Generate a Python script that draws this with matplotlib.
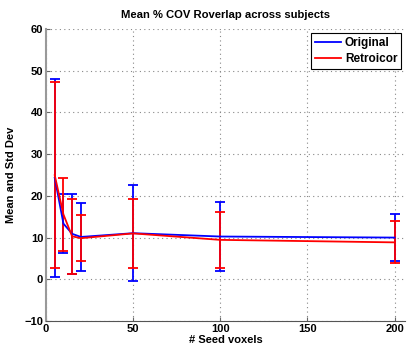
import matplotlib
matplotlib.use('Agg')
import matplotlib.pyplot as plt

# number of seed voxels
seed_voxels = [5, 10, 15, 20, 50, 100, 200]

# mean % COV Roverlap and std dev
orig_mean = [24.35, 13.35, 10.9, 10.15, 11.05, 10.25, 10.0]
orig_std = [23.75, 7.15, 9.6, 8.25, 11.45, 8.25, 5.7]
retro_mean = [24.95, 15.55, 10.3, 9.85, 11.0, 9.45, 8.85]
retro_std = [22.25, 8.75, 9.0, 5.45, 8.2, 6.65, 5.05]

plt.rcParams['font.family'] = ['Liberation Sans', 'DejaVu Sans']
plt.rcParams['font.size'] = 8
plt.rcParams['font.weight'] = 'bold'

fig = plt.figure(figsize=(4.07, 3.49), dpi=100)
ax = fig.add_axes([46 / 407, 28 / 349, 359 / 407, 292 / 349])

ax.errorbar(seed_voxels, orig_mean, yerr=orig_std, color='#0000ff', lw=1.3,
            elinewidth=1.3, capsize=3.5, capthick=1.3, label='Original')
ax.errorbar(seed_voxels, retro_mean, yerr=retro_std, color='#ff0000', lw=1.3,
            elinewidth=1.3, capsize=3.5, capthick=1.3, label='Retroicor')

ax.set_xlim(0, 206)
ax.set_ylim(-10, 60)
ax.set_xticks([0, 50, 100, 150, 200])
ax.set_yticks(range(-10, 61, 10))
ax.grid(True, linestyle=(0, (1, 3)), color='#888888', lw=0.8)
ax.tick_params(direction='in', length=3, color='#666666', pad=2)

ax.spines['top'].set_visible(False)
ax.spines['right'].set_visible(False)
ax.spines['left'].set_color('#999999')
ax.spines['left'].set_linewidth(1.5)
ax.spines['bottom'].set_color('#555555')

ax.set_title('Mean % COV Roverlap across subjects', fontsize=8.1, fontweight='bold', pad=8)
ax.set_xlabel('# Seed voxels', fontweight='bold', labelpad=1)
ax.set_ylabel('Mean and Std Dev', fontweight='bold', labelpad=6)

handles, labels = ax.get_legend_handles_labels()
handles = [h[0] for h in handles]
leg = ax.legend(handles, labels, loc='upper right', fancybox=False, framealpha=1,
                edgecolor='black', handlelength=2.2, borderaxespad=0.3,
                borderpad=0.35, labelspacing=0.35, handletextpad=0.3,
                prop={'weight': 'bold', 'size': 8.5})
leg.get_frame().set_linewidth(0.8)

fig.savefig('out.png', dpi=100)
